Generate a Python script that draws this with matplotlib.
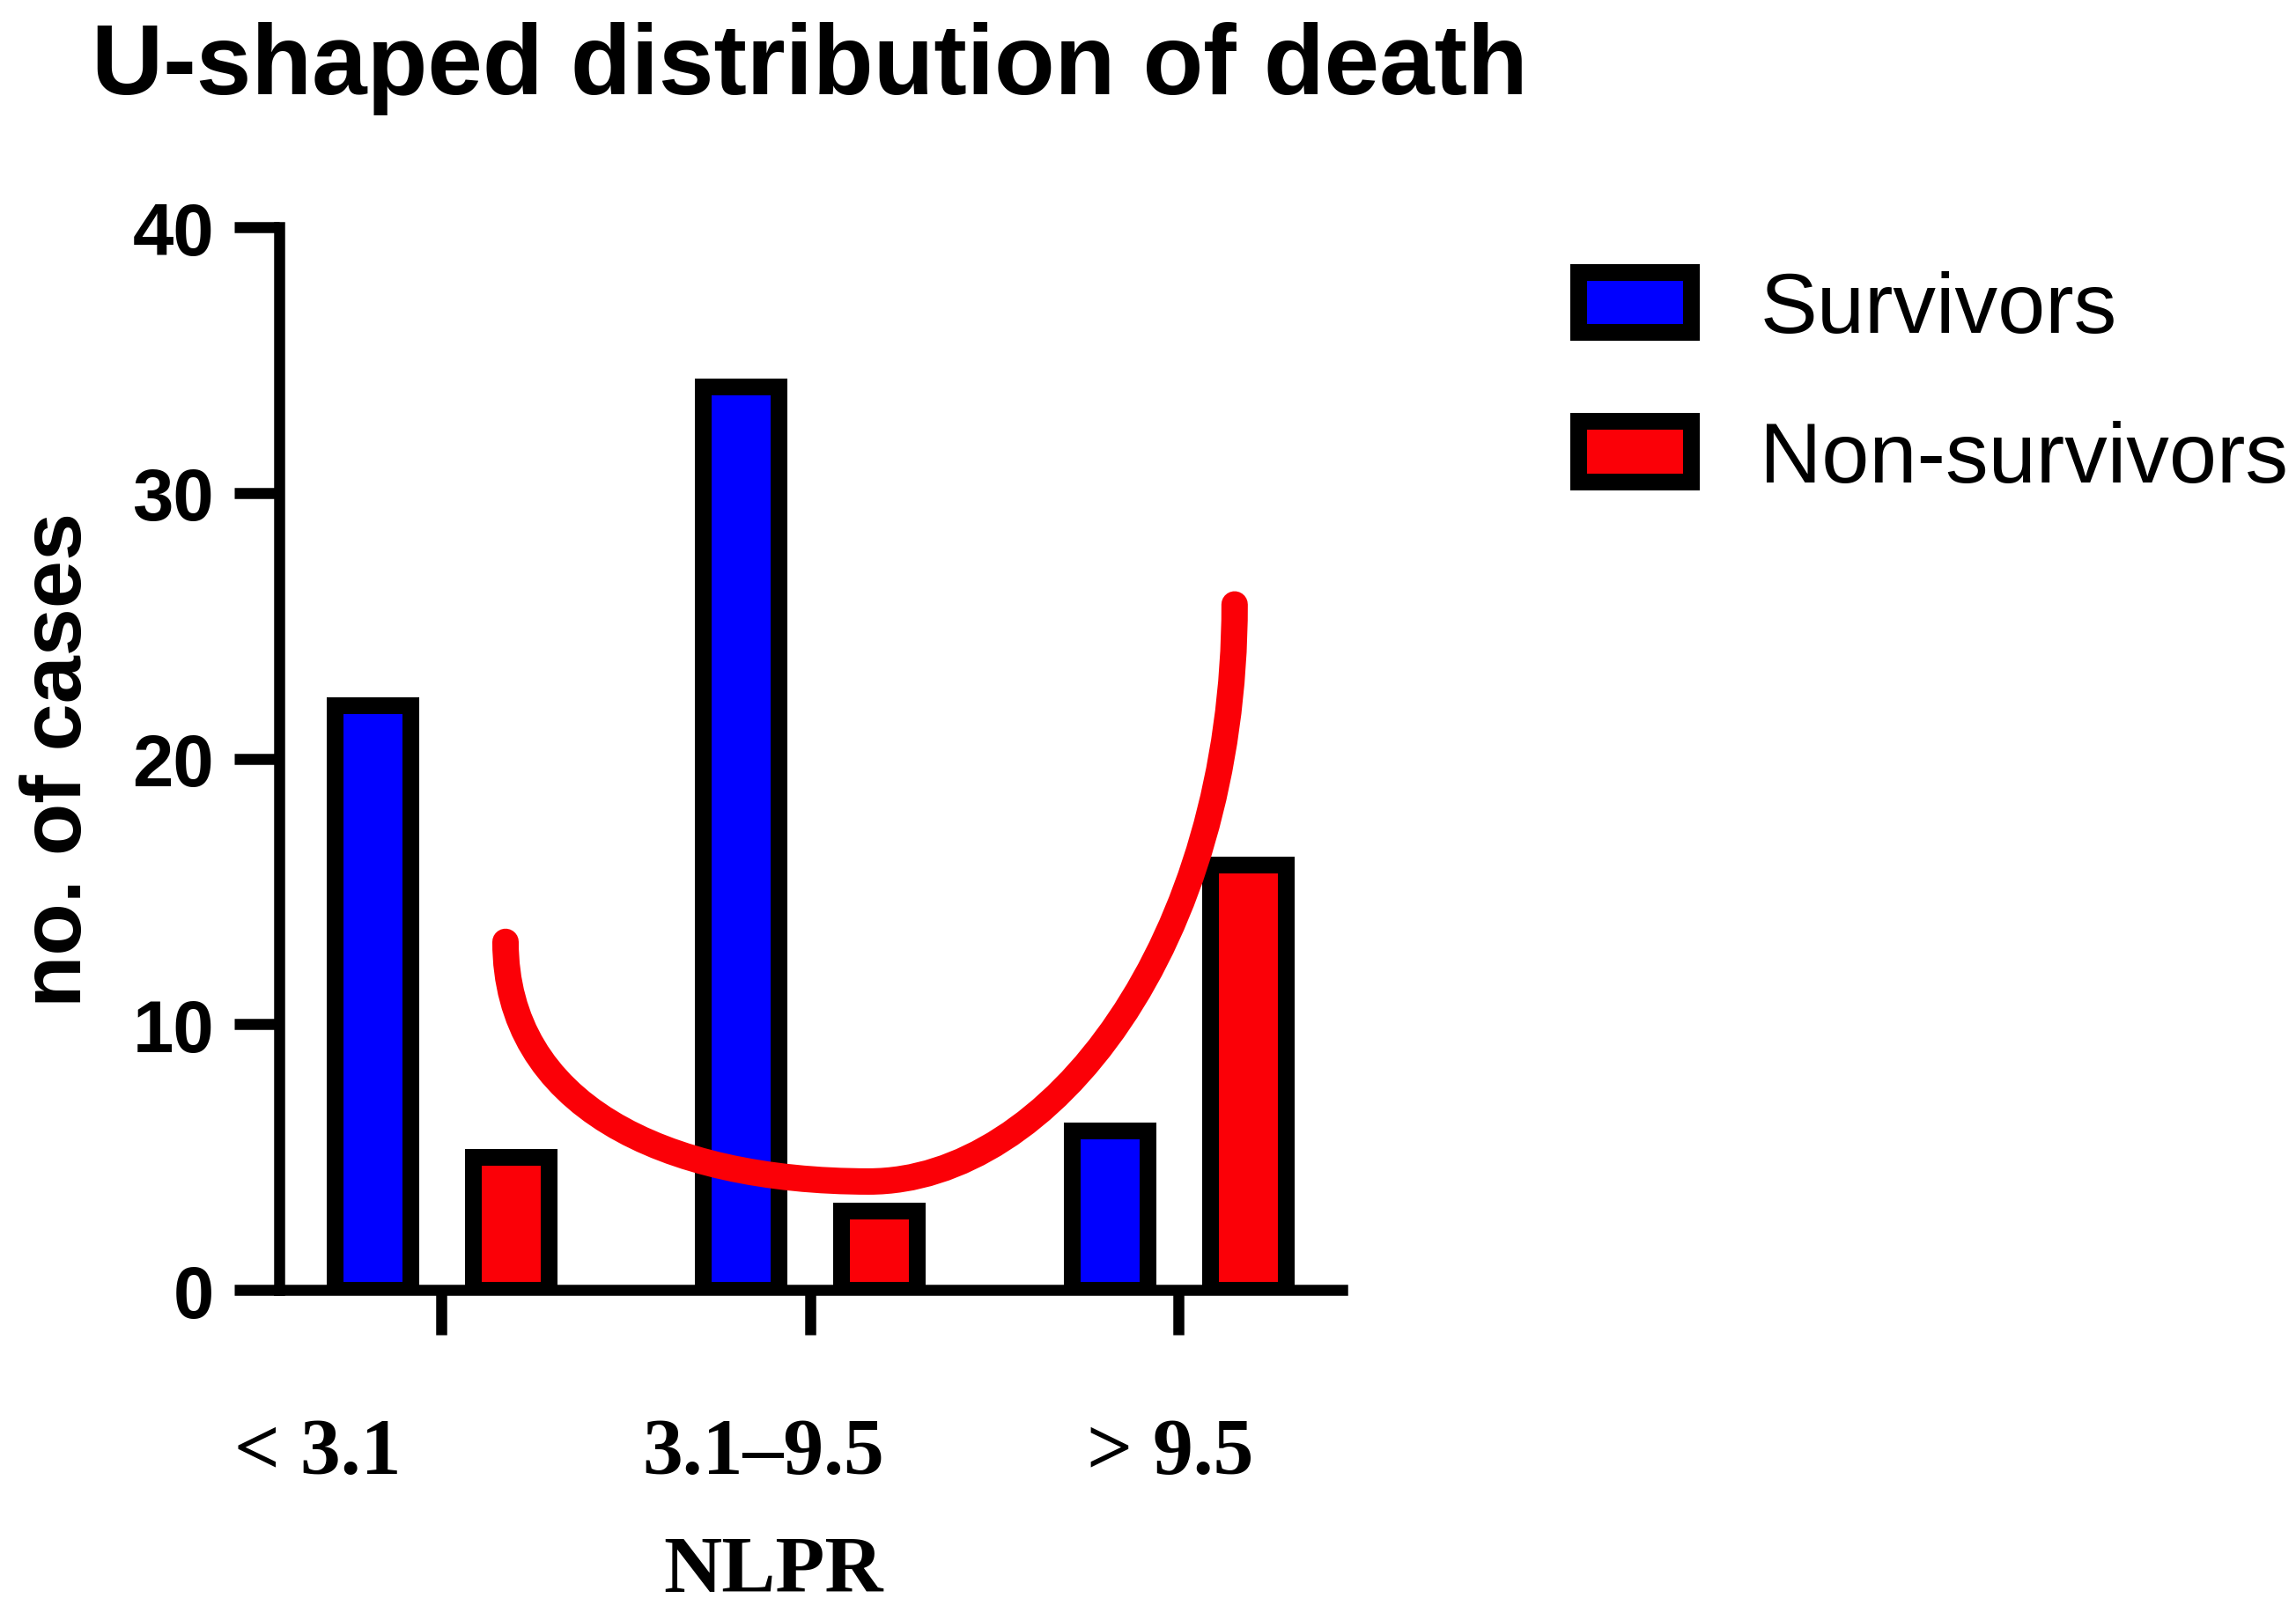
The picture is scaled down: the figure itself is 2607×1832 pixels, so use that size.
import numpy as np
import matplotlib.pyplot as plt
import matplotlib.transforms as mtransforms
from matplotlib.path import Path
from matplotlib.patches import PathPatch

plt.rcParams['font.family'] = ['Liberation Sans', 'DejaVu Sans']

# data
groups = ['< 3.1', '3.1–9.5', '> 9.5']
survivors = [22, 34, 6]
non_survivors = [5, 3, 16]

# hand drawn U curve over the bars (bezier control points, data units)
u_x = [0.174, 0.174, 0.60, 1.16, 1.65, 2.152, 2.152]
u_y = [13.1, 7.0, 4.08, 4.08, 4.08, 13.0, 25.8]

# the tick labels are not centred under the ticks in the original
label_shift = [-101, -38, -7]   # points

blue = '#0000ff'
red = '#fb0007'

fig = plt.figure(figsize=(26.07, 18.33), dpi=100)
ax = fig.add_axes([0.1216, 0.2002, 0.463, 0.6585])

x = np.arange(len(groups))
off = 0.1876
w = 0.205
ax.bar(x - off, survivors, w, color=blue, edgecolor='black', linewidth=13.7, label='Survivors')
ax.bar(x + off, non_survivors, w, color=red, edgecolor='black', linewidth=13.7, label='Non-survivors')

verts = list(zip(u_x, u_y))
codes = [Path.MOVETO] + [Path.CURVE4] * 6
curve = PathPatch(Path(verts, codes), facecolor='none', edgecolor=red,
                  lw=21.6, capstyle='round', zorder=5, clip_on=False)
ax.add_patch(curve)

ax.set_xlim(-0.44, 2.444)
ax.set_ylim(0, 40)
ax.set_yticks([0, 10, 20, 30, 40])
ax.set_xticks(x)
ax.set_xticklabels(groups)

for s in ['top', 'right']:
    ax.spines[s].set_visible(False)
for s in ['left', 'bottom']:
    ax.spines[s].set_linewidth(9)

ax.tick_params(axis='y', length=36.7, width=9, pad=16.5, labelsize=60)
ax.tick_params(axis='x', length=36.7, width=9, pad=68, labelsize=66)
for lab in ax.get_yticklabels():
    lab.set_fontweight('bold')
for lab, dx in zip(ax.get_xticklabels(), label_shift):
    lab.set_fontfamily('Liberation Serif')
    lab.set_fontweight('bold')
    lab.set_transform(lab.get_transform() + mtransforms.ScaledTranslation(dx / 72, 0, fig.dpi_scale_trans))

ax.set_ylabel('no. of cases', fontsize=70, fontweight='bold')
ax.yaxis.set_label_coords(-0.17, 0.5)
ax.set_xlabel('NLPR', fontsize=66, fontweight='bold', family='Liberation Serif', va='baseline')
ax.xaxis.set_label_coords(0.465, -0.2834)

fig.text(0.0399, 0.9416, 'U-shaped distribution of death', fontsize=81,
         fontweight='bold', va='baseline', ha='left')

ax.legend(loc='upper left', bbox_to_anchor=(0.6874, 0.832), bbox_transform=fig.transFigure,
          frameon=False, prop={'family': 'Liberation Sans', 'size': 70},
          handlelength=1.32, handleheight=0.71, handletextpad=0.8,
          labelspacing=0.82, borderpad=0, borderaxespad=0)

fig.savefig('out.png', dpi=100)
